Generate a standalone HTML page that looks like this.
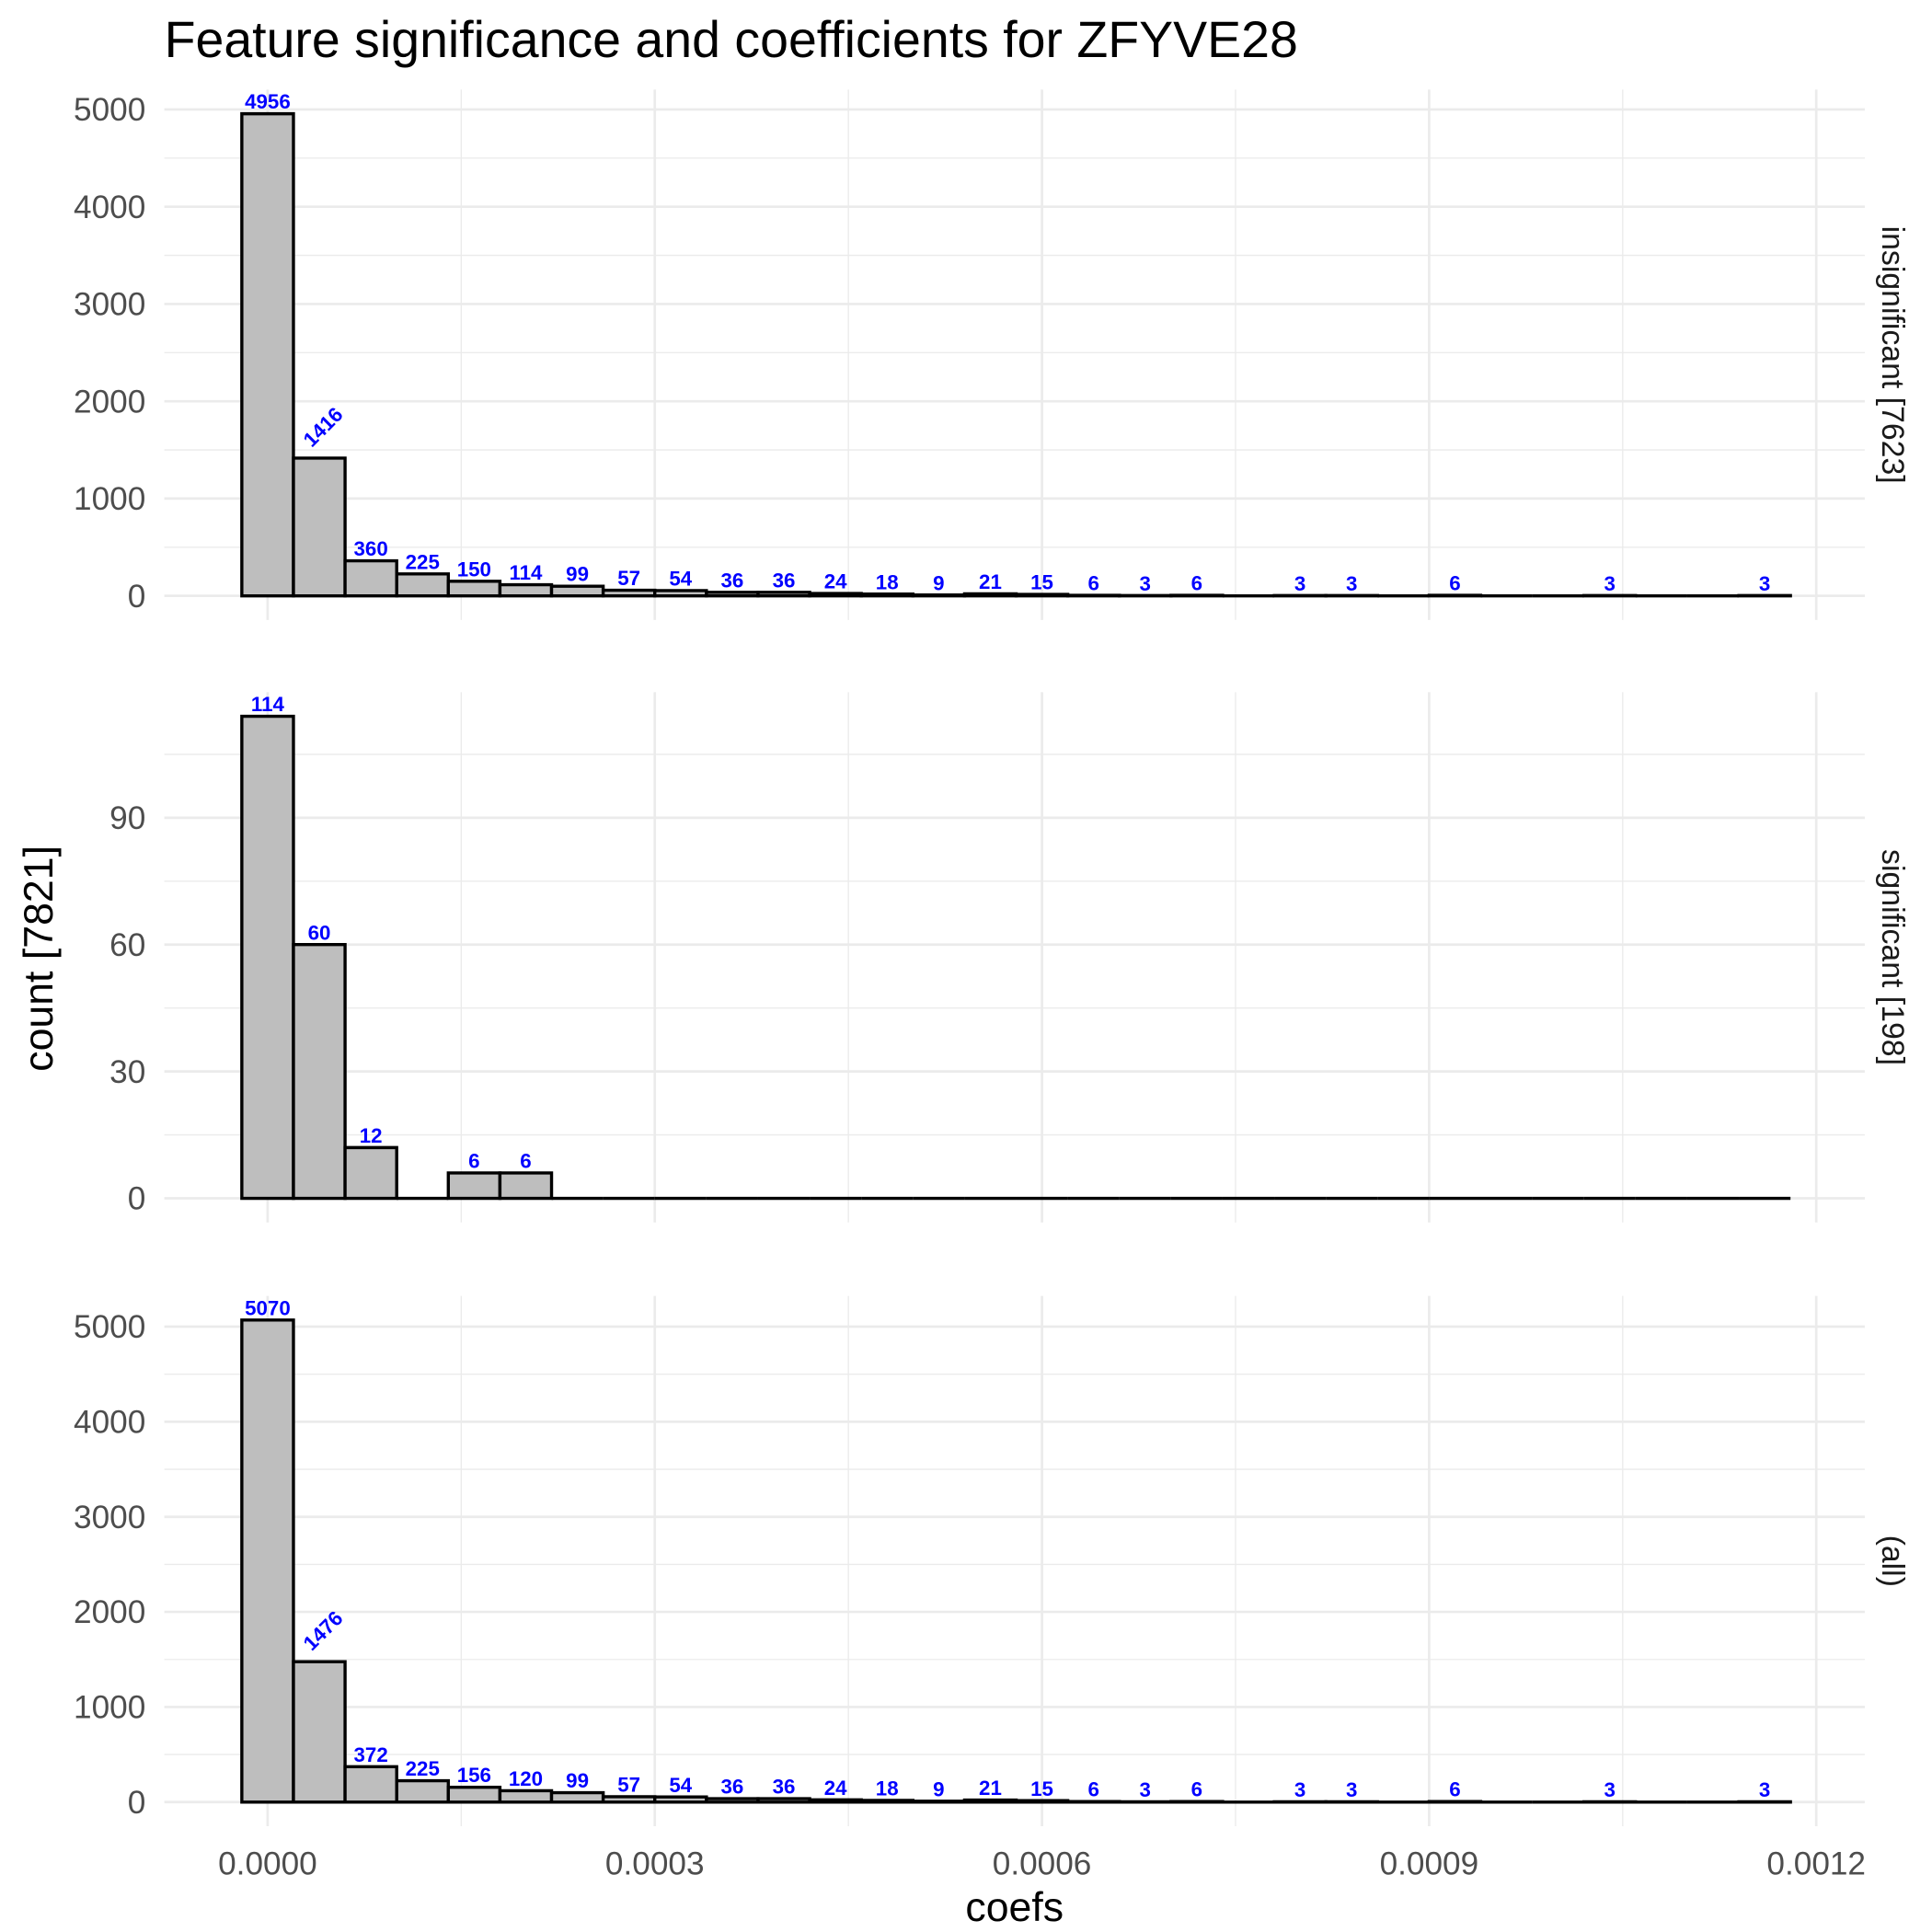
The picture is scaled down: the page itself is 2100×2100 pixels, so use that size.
<!DOCTYPE html>
<html><head><meta charset="utf-8"><style>
html,body{margin:0;padding:0;background:#fff;}
svg{display:block;font-family:"Liberation Sans",sans-serif;}
</style></head><body>
<svg id="chart" width="2100" height="2100" viewBox="0 0 1552 1552" xmlns="http://www.w3.org/2000/svg">
<text x="132" y="46" font-size="41" fill="#000">Feature significance and coefficients for ZFYVE28</text>
<text transform="translate(42,770) rotate(-90)" text-anchor="middle" font-size="33" fill="#000">count [7821]</text>
<text x="815" y="1543" text-anchor="middle" font-size="33" fill="#000">coefs</text>
<g id="panels"></g>
</svg>
<script>
const NS = "http://www.w3.org/2000/svg";
const binWidth = 0.00004;
const xTicks = [0, 0.0003, 0.0006, 0.0009, 0.0012];
const xTickLabels = ["0.0000", "0.0003", "0.0006", "0.0009", "0.0012"];
const panelNames = ["insignificant [7623]", "significant [198]", "(all)"];
const countsInsig = [4956,1416,360,225,150,114,99,57,54,36,36,24,18,9,21,15,6,3,6,0,3,3,0,6,0,0,3,0,0,3];
const countsSig = [114,60,12,0,6,6,0,0,0,0,0,0,0,0,0,0,0,0,0,0,0,0,0,0,0,0,0,0,0,0];
const countsAll = [5070,1476,372,225,156,120,99,57,54,36,36,24,18,9,21,15,6,3,6,0,3,3,0,6,0,0,3,0,0,3];
const yTicksInsig = [0,1000,2000,3000,4000,5000];
const yTicksSig = [0,30,60,90];
const yTicksAll = [0,1000,2000,3000,4000,5000];

const panelCounts = [countsInsig, countsSig, countsAll];
const panelYTicks = [yTicksInsig, yTicksSig, yTicksAll];
const panelTops = [72, 556, 1041];
const panelH = 426;
const plotL = 132, plotR = 1498;
function xScale(v){ return 215 + v / 0.0001 * 103.67; }
const root = document.getElementById('panels');
function mk(tag, attrs, parent){
  const e = document.createElementNS(NS, tag);
  for (const k in attrs) e.setAttribute(k, attrs[k]);
  (parent || root).appendChild(e);
  return e;
}
panelCounts.forEach((counts, p) => {
  const top = panelTops[p], bottom = top + panelH;
  const maxC = Math.max(...counts);
  const range = maxC * 1.1;
  const y0 = bottom - 0.05 * maxC * (panelH / range);
  const yScale = v => y0 - v * panelH / range;
  const g = mk('g', {});
  
  
  const ticks = panelYTicks[p];
  const step = ticks[1] - ticks[0];
  for (let v = step / 2; yScale(v) > top; v += step) {
    const l = mk('line', {x1: plotL, x2: plotR, y1: yScale(v), y2: yScale(v), stroke: '#ebebeb', 'stroke-width': 1}, g);
    
    
  }
  for (let i = 0; i < xTicks.length - 1; i++) {
    const xv = xScale((xTicks[i] + xTicks[i + 1]) / 2);
    const l = mk('line', {x1: xv, x2: xv, y1: top, y2: bottom, stroke: '#ebebeb', 'stroke-width': 1}, g);
    
    
  }
  ticks.forEach(v => {
    const l = mk('line', {x1: plotL, x2: plotR, y1: yScale(v), y2: yScale(v), stroke: '#ebebeb', 'stroke-width': 2}, g);
    
    
    const t = mk('text', {x: 117, y: yScale(v) + 9, 'text-anchor': 'end', 'font-size': 26, fill: '#4d4d4d'}, g);
    t.textContent = v;
    
    
  });
  xTicks.forEach(v => {
    const l = mk('line', {x1: xScale(v), x2: xScale(v), y1: top, y2: bottom, stroke: '#ebebeb', 'stroke-width': 2}, g);
    
    
  });
  const bw = binWidth / 0.0001 * 103.67;
  counts.forEach((c, i) => {
    const cx = xScale(i * binWidth);
    const yt = yScale(c);
    const x1 = cx - bw / 2, x2 = cx + bw / 2;
    const r = mk('path', {d: 'M' + x1 + ',' + y0 + 'L' + x1 + ',' + yt + 'L' + x2 + ',' + yt + 'L' + x2 + ',' + y0 + 'Z', fill: '#bebebe', stroke: '#000', 'stroke-width': 2.5}, g);
    
    
    if (c > 0) {
      const rot = i === 1 && c > 1000;
      const t = mk('text', {'font-size': 16.5, 'font-weight': 'bold', fill: '#0000ff', 'text-anchor': rot ? 'start' : 'middle'}, g);
      if (rot) t.setAttribute('transform', 'translate(' + (cx - 6) + ',' + (yt - 8) + ') rotate(-45)');
      else { t.setAttribute('x', cx); t.setAttribute('y', yt - 4); }
      t.textContent = c;
      
      
    }
  });
  const s = mk('text', {transform: 'translate(1512,' + (top + panelH / 2) + ') rotate(90)', 'text-anchor': 'middle', 'font-size': 25, fill: '#1a1a1a'}, g);
  s.textContent = panelNames[p];
  
  
});
xTicks.forEach((v, i) => {
  const t = mk('text', {x: xScale(v), y: 1506, 'text-anchor': 'middle', 'font-size': 26, fill: '#4d4d4d'});
  t.textContent = xTickLabels[i];
  
  
});
</script>
</body></html>
